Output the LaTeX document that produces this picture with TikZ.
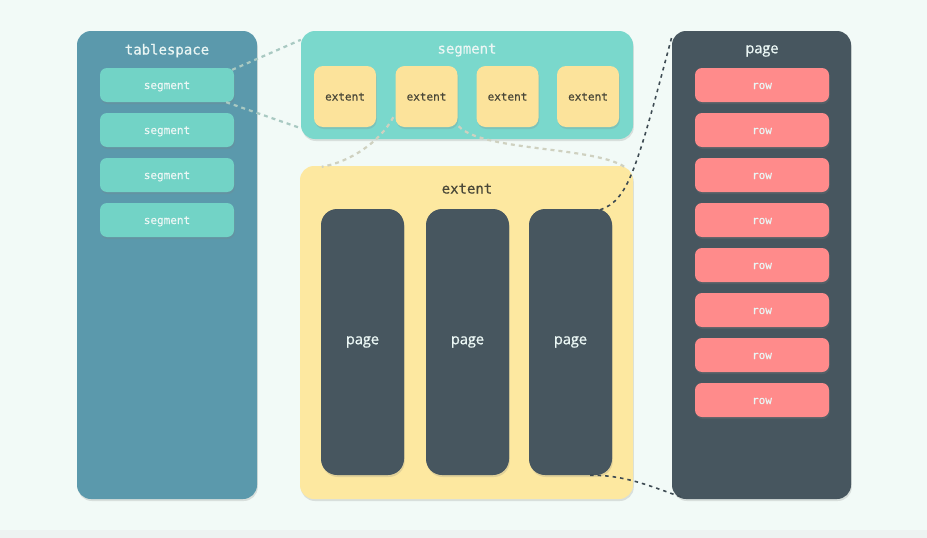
\documentclass[tikz,border=0pt]{standalone}
\usepackage{fontspec}
\newfontfamily\monof[FakeBold=0.4]{DejaVu Sans Mono}
\newfontfamily\sansf[FakeBold=0.9]{Open Sans}
\usetikzlibrary{shadows,calc}
\definecolor{bgc}{HTML}{F2FAF7}
\definecolor{bandc}{HTML}{EDF3F1}
\definecolor{tsc}{HTML}{5B99AC}
\definecolor{tealbox}{HTML}{72D3C6}
\definecolor{segpc}{HTML}{7AD8CC}
\definecolor{yelp}{HTML}{FDE8A0}
\definecolor{yelbox}{HTML}{FCE39B}
\definecolor{slate}{HTML}{47565F}
\definecolor{coral}{HTML}{FF8B8B}
\definecolor{lighttxt}{HTML}{EAF6F4}
\definecolor{darktxt}{HTML}{4A4838}
\definecolor{dashteal}{HTML}{A9C9C2}
\definecolor{dashyel}{HTML}{CFD1C0}
\definecolor{dashdark}{HTML}{3E4B53}
\tikzset{
  shade/.style={drop shadow={opacity=0.22,shadow xshift=0.8pt,shadow yshift=-2pt}},
  panel/.style={rounded corners=14pt,shade,inner sep=0pt},
  smallbox/.style={rounded corners=7pt,shade,minimum width=134pt,minimum height=34pt,inner sep=0pt,text height=8.5pt,text depth=0.5pt,font=\monof\fontsize{11}{12}\selectfont},
  segbox/.style={smallbox,fill=tealbox,text=lighttxt},
  rowbox/.style={smallbox,fill=coral,text=lighttxt},
  extbox/.style={rounded corners=9pt,shade,fill=yelbox,text=darktxt,minimum width=62pt,minimum height=61pt,inner sep=0pt,text height=8.5pt,text depth=0.5pt,font=\monof\fontsize{11}{12}\selectfont},
  pagebox/.style={rounded corners=16pt,shade,fill=slate,text=lighttxt,minimum width=83pt,minimum height=266pt,inner sep=0pt,font=\sansf\fontsize{14.5}{16}\selectfont},
  ttl/.style={font=\monof\fontsize{14}{15}\selectfont,inner sep=0pt,text height=9pt,text depth=2pt},
  lightdash/.style={line width=2.2pt,dash pattern=on 4pt off 4pt},
  darkdash/.style={line width=1.6pt,dash pattern=on 3.5pt off 4pt,draw=dashdark},
}
\begin{document}
\begin{tikzpicture}[x=1pt,y=-1pt]
\fill[bgc] (0,0) rectangle (927,538);
\fill[bandc] (0,530) rectangle (927,538);
\useasboundingbox (0,0) rectangle (927,538);

% tablespace
\node[panel,fill=tsc,minimum width=180pt,minimum height=468pt] (ts) at (167,265) {};
\node[ttl,text=lighttxt] (tst) at (167,51) {tablespace};
\foreach \i/\y in {1/85,2/130,3/175,4/220}
  \node[segbox] (sb\i) at (167,\y) {segment};

% segment panel
\node[panel,fill=segpc,minimum width=332pt,minimum height=108pt] (segp) at (467,85) {};
\node[ttl,text=lighttxt] (segt) at (467,50) {segment};
\foreach \i/\x in {1/345,2/426.5,3/507.5,4/588}
  \node[extbox] (e\i) at (\x,96.5) {extent};

% extent panel
\node[panel,fill=yelp,minimum width=333pt,minimum height=333pt] (extp) at (466.5,332.5) {};
\node[ttl,text=darktxt] (extt) at (467,190) {extent};
\foreach \i/\x in {1/362.5,2/467.5,3/570.5}
  \node[pagebox] (p\i) at (\x,342) {page};

% page panel
\node[panel,fill=slate,minimum width=179pt,minimum height=468pt] (pgp) at (761.5,265) {};
\node[font=\sansf\fontsize{14.5}{16}\selectfont,text=lighttxt,inner sep=0pt] (pgt) at (762,51) {page};
\foreach \i in {1,...,8}
  \node[rowbox] (r\i) at (762,{85+45*(\i-1)}) {row};

% connectors
\draw[lightdash,draw=dashteal] ($(sb1.north east)+(-2,2)$) -- ($(segp.north west)+(0,9)$);
\draw[lightdash,draw=dashteal] ($(sb1.south east)+(-8,0)$) -- ($(segp.south west)+(0,-11)$);
\draw[lightdash,draw=dashyel] ($(e2.south west)+(-2,-10)$) .. controls (380,142) and (350,162) .. ($(extp.north west)+(22,1)$);
\draw[lightdash,draw=dashyel] ($(e2.south east)+(1,-1)$) .. controls (482,152) and (600,146) .. ($(extp.north east)+(-6,3)$);
\draw[darkdash] ($(p3.north east)+(-12,1)$) .. controls (628,200) and (636,172) .. ($(pgp.north west)+(0,6)$);
\draw[darkdash] ($(p3.south east)+(-22,0)$) .. controls (625,475) and (650,486) .. ($(pgp.south west)+(10,-2)$);
\end{tikzpicture}
\end{document}
